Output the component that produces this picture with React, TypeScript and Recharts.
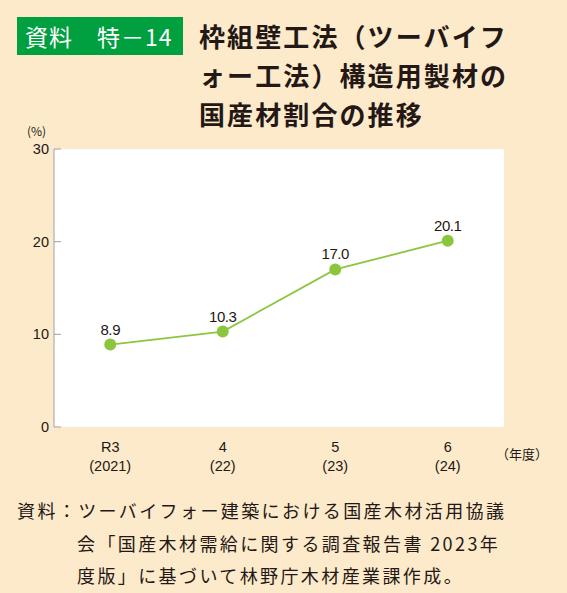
import React from 'react';
import { LineChart, Line, XAxis, YAxis, CartesianGrid, LabelList } from 'recharts';

const years = ['R3', '4', '5', '6'];
const calendarYears = ['(2021)', '(22)', '(23)', '(24)'];
const shares = [8.9, 10.3, 17.0, 20.1];
const yTicks = [0, 10, 20, 30];
const boundaryTicks = [0, 1, 2, 3, 4];

const data = years.map((y, i) => ({ x: i + 0.5, year: y, cal: calendarYears[i], v: shares[i] }));

const BG = '#fdeacb';
const INK = '#231815';
const GREEN = '#8cc63f';
const AXIS = '#a0a0a0';
const NUM_FONT = '"Liberation Sans", Arial, sans-serif';
const JP_FONT = '"Noto Sans CJK JP", "Noto Sans", sans-serif';

const XLabelTick = (props: any) => {
  const { x, y, payload } = props;
  const idx = data.findIndex((d) => d.x === payload.value);
  if (idx < 0) return <g />;
  return (
    <g>
      <text x={x} y={y + 17} textAnchor="middle" fontSize={14.5} fontFamily={NUM_FONT} fill={INK}>
        {years[idx]}
      </text>
      <text x={x} y={y + 36} textAnchor="middle" fontSize={14.5} fontFamily={NUM_FONT} fill={INK}>
        {calendarYears[idx]}
      </text>
    </g>
  );
};

export default function App() {
  return (
    <div
      style={{
        position: 'absolute',
        left: 0,
        top: 0,
        width: 567,
        height: 593,
        background: BG,
        overflow: 'hidden',
        fontFamily: JP_FONT,
        color: INK,
      }}
    >
      <div
        style={{
          position: 'absolute',
          left: 17,
          top: 17,
          width: 166,
          height: 38,
          background: '#00a040',
          color: '#fff',
          fontSize: 23,
          lineHeight: '38px',
          paddingLeft: 8,
          boxSizing: 'border-box',
          whiteSpace: 'nowrap',
          letterSpacing: 1,
        }}
      >
        資料　特－14
      </div>
      <div
        style={{
          position: 'absolute',
          left: 199,
          top: 16,
          fontSize: 26,
          fontWeight: 700,
          lineHeight: '39px',
          letterSpacing: 2.1,
          whiteSpace: 'nowrap',
        }}
      >
        枠組壁工法（ツーバイフ
        <br />
        ォー工法）構造用製材の
        <br />
        国産材割合の推移
      </div>

      <div
        style={{
          position: 'absolute',
          left: 27,
          top: 122,
          fontSize: 12,
          fontFamily: JP_FONT,
          whiteSpace: 'nowrap',
        }}
      >
        (%)
      </div>
      <div
        style={{
          position: 'absolute',
          left: 496,
          top: 444,
          fontSize: 13,
          fontFamily: JP_FONT,
          whiteSpace: 'nowrap',
        }}
      >
        （年度）
      </div>

      <div style={{ position: 'absolute', left: 0, top: 0 }}>
        <LineChart width={567} height={480} data={data} margin={{ top: 149, right: 63, left: 0, bottom: 0 }}>
          <CartesianGrid xAxisId="b" horizontal={false} vertical={false} fill="#ffffff" fillOpacity={1} />
          <XAxis
            xAxisId="b"
            dataKey="x"
            type="number"
            domain={[0, 4]}
            ticks={boundaryTicks}
            height={0}
            stroke={AXIS}
            tickSize={-6}
            tick={() => <g />}
            axisLine={{ stroke: AXIS }}
            tickLine={{ stroke: AXIS }}
          />
          <XAxis
            xAxisId="l"
            dataKey="x"
            type="number"
            domain={[0, 4]}
            ticks={data.map((d) => d.x)}
            height={53}
            axisLine={false}
            tickLine={false}
            tick={<XLabelTick />}
          />
          <YAxis
            domain={[0, 30]}
            ticks={yTicks}
            width={54}
            tickSize={-7}
            tickMargin={12}
            axisLine={{ stroke: AXIS }}
            tickLine={{ stroke: AXIS }}
            tick={{ fontSize: 14.5, fontFamily: NUM_FONT, fill: INK }}
          />
          <Line
            xAxisId="b"
            dataKey="v"
            stroke={GREEN}
            strokeWidth={1.8}
            isAnimationActive={false}
            dot={{ r: 6, fill: GREEN, stroke: 'none' }}
            activeDot={false}
          >
            <LabelList
              dataKey="v"
              position="top"
              offset={10}
              formatter={(v: any) => Number(v).toFixed(1)}
              style={{ fontSize: 15, fontFamily: NUM_FONT, fill: INK, letterSpacing: -0.4 }}
            />
          </Line>
        </LineChart>
      </div>

      <div
        style={{
          position: 'absolute',
          left: 17,
          top: 494,
          fontSize: 18,
          lineHeight: '32.5px',
          letterSpacing: 2.4,
          whiteSpace: 'nowrap',
        }}
      >
        <div>資料：ツーバイフォー建築における国産木材活用協議</div>
        <div style={{ paddingLeft: 60 }}>会「国産木材需給に関する調査報告書 2023年</div>
        <div style={{ paddingLeft: 60 }}>度版」に基づいて林野庁木材産業課作成。</div>
      </div>
    </div>
  );
}
